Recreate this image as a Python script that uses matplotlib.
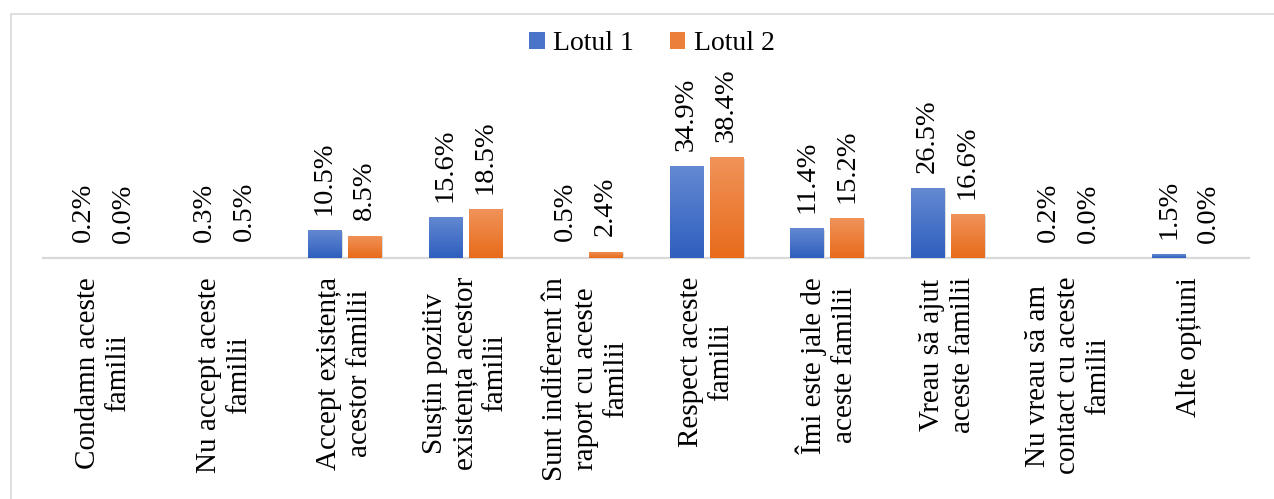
import numpy as np
import matplotlib
matplotlib.use("Agg")
import matplotlib.pyplot as plt
from matplotlib.patches import Rectangle, Patch
from matplotlib.colors import LinearSegmentedColormap
from matplotlib import patheffects as pe
from matplotlib.transforms import blended_transform_factory, offset_copy

plt.rcParams['font.family'] = ['Liberation Serif', 'DejaVu Serif']

categories = [
    "Condamn aceste\nfamilii",
    "Nu accept aceste\nfamilii",
    "Accept existența\nacestor familii",
    "Susțin pozitiv\nexistența acestor\nfamilii",
    "Sunt indiferent în\nraport cu aceste\nfamilii",
    "Respect aceste\nfamilii",
    "Îmi este jale de\naceste familii",
    "Vreau să ajut\naceste familii",
    "Nu vreau să am\ncontact cu aceste\nfamilii",
    "Alte opțiuni",
]
lotul1 = [0.2, 0.3, 10.5, 15.6, 0.5, 34.9, 11.4, 26.5, 0.2, 1.5]
lotul2 = [0.0, 0.5, 8.5, 18.5, 2.4, 38.4, 15.2, 16.6, 0.0, 0.0]
series_names = ["Lotul 1", "Lotul 2"]

W, H, DPI = 1274, 499, 100
fig = plt.figure(figsize=(W / DPI, H / DPI), dpi=DPI)
fig.patch.set_facecolor("white")

# outer chart frame
fig.patches.append(Rectangle((11 / W, -0.1), 1.2, 1 - 14 / H + 0.1,
                             transform=fig.transFigure, fill=False,
                             edgecolor="#d9d9d9", linewidth=1.2))

px_per_pct = 2.63
ymax = 45
base_y = 258
ax_left, ax_right = 43, 1249
ax_h = ymax * px_per_pct
ax = fig.add_axes([ax_left / W, (H - base_y) / H, (ax_right - ax_left) / W, ax_h / H])
ax.set_xlim(-0.5, len(categories) - 0.5)
ax.set_ylim(0, ymax)
for s in ["top", "right", "left"]:
    ax.spines[s].set_visible(False)
ax.spines["bottom"].set_color("#d9d9d9")
ax.spines["bottom"].set_linewidth(1.6)
ax.set_yticks([])
ax.set_xticks([])

x = np.arange(len(categories))
width = 0.274
offset = 0.166

blue_cmap = LinearSegmentedColormap.from_list("b", ["#2e5fbe", "#6489d2"])
orange_cmap = LinearSegmentedColormap.from_list("o", ["#e86b1a", "#f0935a"])
grad = np.linspace(0, 1, 256).reshape(-1, 1)

for vals, dx, cmap in [(lotul1, -offset, blue_cmap), (lotul2, offset, orange_cmap)]:
    bars = ax.bar(x + dx, vals, width, color=cmap(0.6), linewidth=0, zorder=2)
    for b, v in zip(bars, vals):
        if v >= 1:
            b.set_path_effects([pe.SimplePatchShadow(offset=(1.2, -1.2), shadow_rgbFace="#888888", alpha=0.3), pe.Normal()])
            bx, by = b.get_x(), b.get_y()
            im = ax.imshow(grad, cmap=cmap, origin="lower", aspect="auto",
                           extent=(bx, bx + b.get_width(), by, by + b.get_height()),
                           zorder=3, interpolation="bilinear")
            im.set_clip_path(b)
        else:
            b.set_alpha(0.6)
        ax.annotate(f"{v:.1f}%", xy=(b.get_x() + b.get_width() / 2, v),
                    xytext=(0, 11), textcoords="offset points",
                    rotation=90, ha="center", va="bottom",
                    fontsize=20.5, color="black", annotation_clip=False)

# category labels, rotated and centred under each group
lab_tr = offset_copy(blended_transform_factory(ax.transData, ax.transAxes),
                     fig=fig, x=0, y=-19, units="dots")
for xi, cat in zip(x, categories):
    ax.text(xi, 0, cat, transform=lab_tr, rotation=90, ha="center", va="top",
            multialignment="center", fontsize=21, linespacing=1.22, clip_on=False)

handles = [Patch(facecolor=blue_cmap(0.5)), Patch(facecolor=orange_cmap(0.5))]
fig.legend(handles, series_names, loc="center", bbox_to_anchor=(652 / W, 1 - 44 / H),
           ncol=2, frameon=False, fontsize=20, handlelength=0.55, handleheight=0.55,
           handletextpad=0.3, columnspacing=1.3)

fig.savefig("out.png", dpi=DPI)
